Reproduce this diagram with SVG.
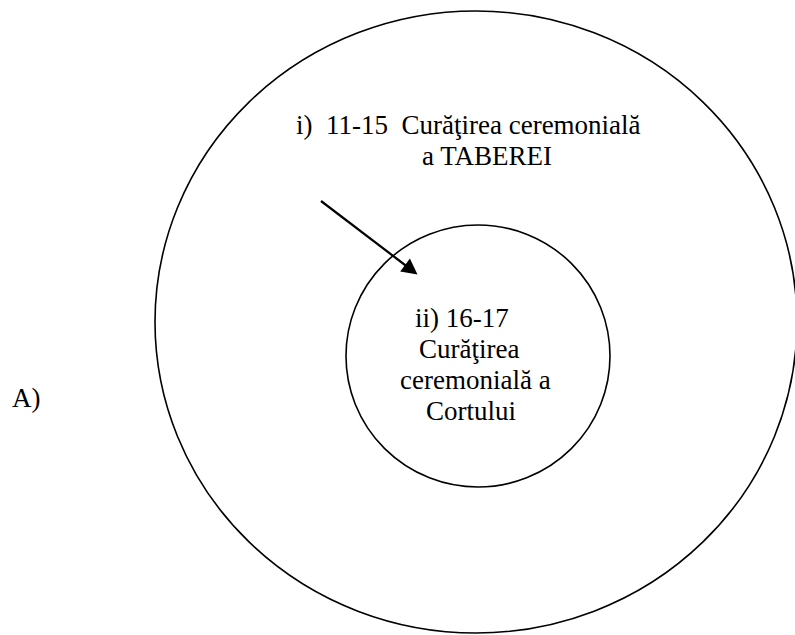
<svg xmlns="http://www.w3.org/2000/svg" width="795" height="635" viewBox="0 0 795 635">
<style>
.t{font-family:"Liberation Serif","DejaVu Serif",serif;font-size:27px;fill:#000}
.sh{fill:none;stroke:#000;stroke-width:1.6}
</style>
<rect width="795" height="635" fill="#fff"/>
<g id="label-A"><text class="t" x="12" y="407">A)</text></g>
<g id="outer">
<ellipse class="sh" cx="476" cy="322" rx="321" ry="311"/>
<text class="t" x="296" y="134" xml:space="preserve">i)  11-15  Curăţirea ceremonială</text>
<text class="t" x="422" y="165">a TABEREI</text>
</g>
<g id="inner">
<ellipse class="sh" cx="478" cy="356" rx="132" ry="131"/>
<text class="t" x="415" y="327">ii) 16-17</text>
<text class="t" x="419" y="358">Curăţirea</text>
<text class="t" x="400" y="389">ceremonială a</text>
<text class="t" x="426" y="420">Cortului</text>
</g>
<g id="connectors">
<line x1="321" y1="201" x2="407" y2="266.5" stroke="#000" stroke-width="2.2"/>
<path d="M417.5,274.5 L400.2,271.5 L409.9,258.6 Z" fill="#000"/>
</g>
</svg>
